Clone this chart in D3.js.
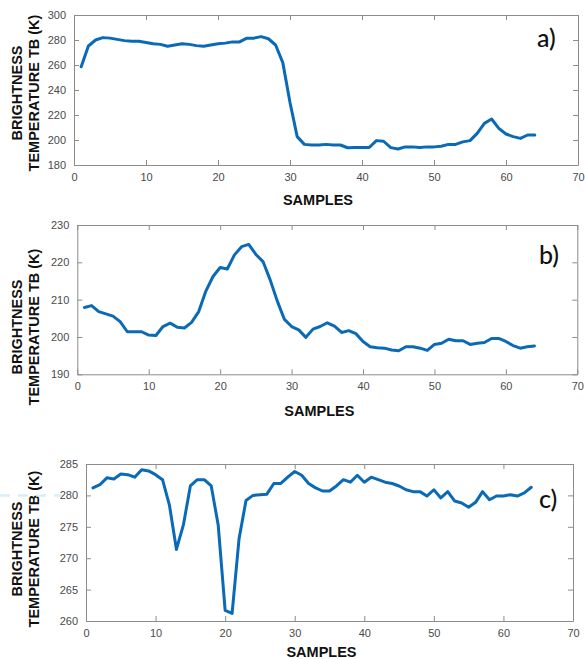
<!DOCTYPE html>
<html>
<head>
<meta charset="utf-8">
<script src="https://cdn.jsdelivr.net/npm/d3@7"></script>
<style>
  html, body { margin: 0; padding: 0; background: #fff; }
  svg { display: block; }
</style>
</head>
<body>
<svg id="chart" width="585" height="659"></svg>
<script>
// Sample index shared by all three profiles
const samples = [1,2,3,4,5,6,7,8,9,10,11,12,13,14,15,16,17,18,19,20,21,22,23,24,25,26,27,28,29,30,31,32,
  33,34,35,36,37,38,39,40,41,42,43,44,45,46,47,48,49,50,51,52,53,54,55,56,57,58,59,60,61,62,63,64];

// Brightness temperature TB (K) per sample
const tbA = [258.6,275.2,280,281.9,281.5,280.5,279.5,279,279,278,277,276.5,275,276,277,276.5,
  275.5,275,276,277,277.5,278.5,278.5,281.5,281.5,282.7,281,276,261.9,230,202.7,196.5,
  196,196,196.5,196,196,193.8,194,194,194,199.5,199,193.9,192.8,194.5,194.5,194,194.5,194.5,
  195,196.5,196.5,198.5,199.5,205.3,213.3,216.8,209.3,204.8,202.7,201.3,204,204];
const tbB = [207.9,208.4,206.8,206.2,205.6,204.1,201.4,201.4,201.4,200.5,200.4,202.8,203.7,202.6,202.4,203.9,
  206.8,212.3,216.2,218.6,218.2,222,224.2,224.8,222.1,220.2,215.3,209.6,204.7,202.8,201.9,199.9,
  202.1,202.8,203.8,202.9,201.2,201.7,200.9,198.8,197.4,197.1,197,196.5,196.3,197.4,197.4,197,
  196.4,198,198.3,199.4,199,199,198,198.3,198.5,199.6,199.6,198.8,197.7,197,197.4,197.6];
const tbC = [281.2,281.7,282.8,282.6,283.4,283.3,282.9,284.1,283.9,283.3,282.5,278.4,271.4,275.3,281.5,282.5,
  282.5,281.5,275.3,261.7,261.2,273.1,279.2,280,280.1,280.2,281.9,281.9,282.9,283.8,283.2,281.9,
  281.2,280.7,280.7,281.5,282.5,282.1,283.2,282.1,282.9,282.5,282.1,281.9,281.5,280.9,280.6,280.6,
  279.9,280.9,279.6,280.6,279.1,278.8,278.1,278.9,280.6,279.3,279.9,279.9,280.1,279.9,280.4,281.3];

// Axis ticks
const xTicks = [0,10,20,30,40,50,60,70];
const yTicksA = [180,200,220,240,260,280,300];
const yTicksB = [190,200,210,220,230];
const yTicksC = [260,265,270,275,280,285];
const panelTags = ["a)", "b)", "c)"];

const svg = d3.select("#chart");
const lineColor = "#0a6ab6";
const boxColor = "#8c8c8c";
const tickText = "#4a4a4a";

const panels = [
  { values: tbA, yTicks: yTicksA, tag: panelTags[0],
    left: 74, right: 578, top: 15, bottom: 165,
    ylabCenter: 93, xlabY: 205, tagX: 537, tagY: 47 },
  { values: tbB, yTicks: yTicksB, tag: panelTags[1],
    left: 77.3, right: 577.3, top: 225, bottom: 374.3,
    ylabCenter: 327, xlabY: 416, tagX: 539, tagY: 264 },
  { values: tbC, yTicks: yTicksC, tag: panelTags[2],
    left: 86, right: 573, top: 464, bottom: 621,
    ylabCenter: 549, xlabY: 657, tagX: 539, tagY: 508 }
];

panels.forEach((p, i) => {
  const x = d3.scaleLinear().domain([0, 70]).range([p.left, p.right]);
  const y = d3.scaleLinear()
    .domain([p.yTicks[0], p.yTicks[p.yTicks.length - 1]])
    .range([p.bottom, p.top]);

  const g = svg.append("g");

  // Inward ticks on all four sides
  const tl = 5;
  const bottomAxis = d3.axisBottom(x).tickValues(xTicks).tickSizeInner(-tl).tickSizeOuter(0).tickPadding(8);
  const topAxis = d3.axisTop(x).tickValues(xTicks).tickSizeInner(-tl).tickSizeOuter(0).tickFormat("");
  const leftAxis = d3.axisLeft(y).tickValues(p.yTicks).tickSizeInner(-tl).tickSizeOuter(0).tickPadding(8);
  const rightAxis = d3.axisRight(y).tickValues(p.yTicks).tickSizeInner(-tl).tickSizeOuter(0).tickFormat("");

  const styleAxis = sel => {
    sel.select(".domain").attr("stroke", boxColor).attr("stroke-width", 1);
    sel.selectAll(".tick line").attr("stroke", boxColor);
    sel.selectAll(".tick text").attr("fill", tickText)
      .attr("font-family", "Liberation Sans, Arial, sans-serif").attr("font-size", 11);
  };

  g.append("g").attr("transform", `translate(0,${p.bottom})`).call(bottomAxis).call(styleAxis);
  g.append("g").attr("transform", `translate(0,${p.top})`).call(topAxis).call(styleAxis);
  g.append("g").attr("transform", `translate(${p.left},0)`).call(leftAxis).call(styleAxis);
  g.append("g").attr("transform", `translate(${p.right},0)`).call(rightAxis).call(styleAxis);

  // Profile line
  const line = d3.line().x((d, k) => x(samples[k])).y(d => y(d));
  g.append("path")
    .datum(p.values)
    .attr("d", line)
    .attr("fill", "none")
    .attr("stroke", lineColor)
    .attr("stroke-width", 3)
    .attr("stroke-linejoin", "round")
    .attr("stroke-linecap", "round");

  // Y-axis title (two lines, rotated)
  const yl = g.append("text")
    .attr("transform", `translate(0,${p.ylabCenter}) rotate(-90)`)
    .attr("text-anchor", "middle")
    .attr("font-family", "Liberation Sans, Arial, sans-serif")
    .attr("font-weight", "bold")
    .attr("font-size", 14.5)
    .attr("fill", "#111");
  yl.append("tspan").attr("x", 0).attr("y", 22).text("BRIGHTNESS");
  yl.append("tspan").attr("x", 0).attr("y", 39).text("TEMPERATURE TB (K)");

  // X-axis title
  g.append("text")
    .attr("x", (p.left + p.right) / 2 - 8)
    .attr("y", p.xlabY)
    .attr("text-anchor", "middle")
    .attr("font-family", "Liberation Sans, Arial, sans-serif")
    .attr("font-weight", "bold")
    .attr("font-size", 14.5)
    .attr("fill", "#111")
    .text("SAMPLES");

  // Panel tag
  g.append("text")
    .attr("x", p.tagX)
    .attr("y", p.tagY)
    .attr("font-family", "Lato, 'Noto Sans', sans-serif")
    .attr("font-weight", 500)
    .attr("font-size", 25)
    .attr("fill", "#111")
    .text(p.tag);

  // Faint dashed guide at the 280 K level, left margin of the last panel
  if (i === 2) {
    svg.append("line")
      .attr("x1", 0).attr("x2", 62)
      .attr("y1", y(280)).attr("y2", y(280))
      .attr("stroke", "#d8eef8")
      .attr("stroke-width", 2.5)
      .attr("stroke-dasharray", "10,8");
  }
});
</script>
</body>
</html>
